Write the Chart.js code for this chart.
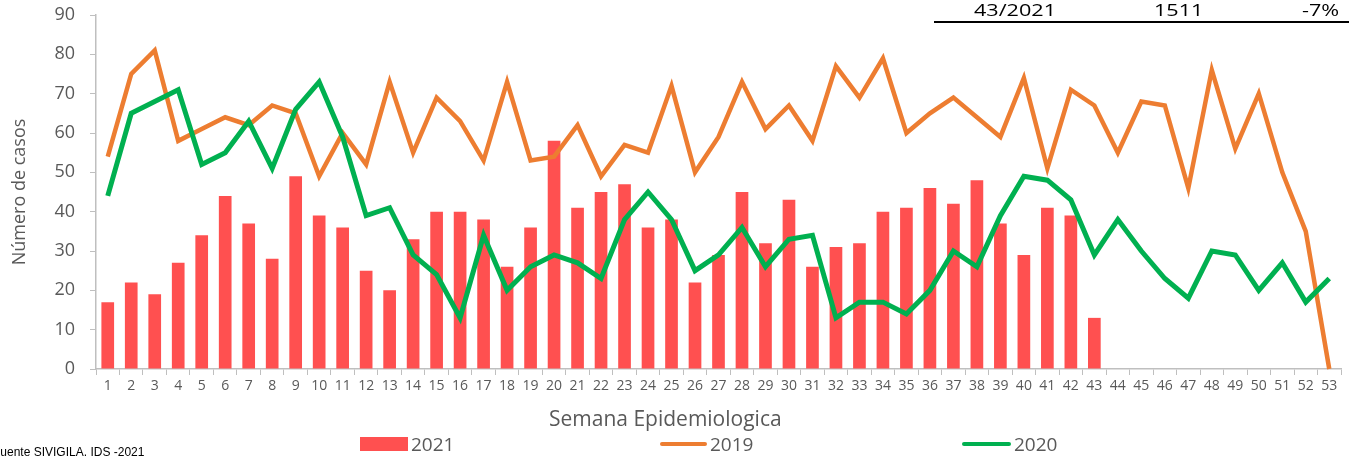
<!DOCTYPE html>
<html>
<head>
<meta charset="utf-8">
<script src="https://cdn.jsdelivr.net/npm/chart.js@4"></script>
<style>
  html, body { margin: 0; padding: 0; background: #fff; }
  #wrap { position: relative; width: 1349px; height: 456px; overflow: hidden; }
  canvas { position: absolute; left: 0; top: 0; }
  .t { position: absolute; white-space: nowrap; }
  .leg { font-family: "Open Sans", sans-serif; font-size: 19px; color: #595959; line-height: 20px; top: 434px; }
  .top { font-family: "Open Sans", sans-serif; font-size: 16px; color: #000; line-height: 18px; top: 1px; transform-origin: left top; transform: scaleX(1.35); }
</style>
</head>
<body>
<div id="wrap">
  <canvas id="c" width="1349" height="456"></canvas>
  <div class="t top" style="left:974px;">43/2021</div>
  <div class="t top" style="left:1154px;">1511</div>
  <div class="t top" style="left:1302px;">-7%</div>
  <div style="position:absolute;left:934px;top:21px;width:415px;height:2px;background:#000;"></div>

  <div class="t" style="left:549px;top:405px;font-family:'Open Sans',sans-serif;font-size:21px;line-height:26px;color:#595959;">Semana Epidemiologica</div>

  <div style="position:absolute;left:360px;top:437px;width:48px;height:14px;background:#FF5050;"></div>
  <div class="t leg" style="left:411px;">2021</div>
  <div style="position:absolute;left:660px;top:442px;width:47px;height:4px;border-radius:2px;background:#ED7D31;"></div>
  <div class="t leg" style="left:710px;">2019</div>
  <div style="position:absolute;left:962px;top:442px;width:49px;height:4px;border-radius:2px;background:#00B050;"></div>
  <div class="t leg" style="left:1014px;">2020</div>

  <div class="t" style="left:-7px;top:445px;font-family:'Liberation Sans',Arial,sans-serif;font-size:12px;color:#000;">Fuente SIVIGILA, IDS -2021</div>
</div>
<script>
const weeks = Array.from({length: 53}, (_, i) => String(i + 1));
const cases2021 = [17,22,19,27,34,44,37,28,49,39,36,25,20,33,40,40,38,26,36,58,41,45,47,36,38,22,29,45,32,43,26,31,32,40,41,46,42,48,37,29,41,39,13];
const cases2019 = [54,75,81,58,61,64,62,67,65,49,60,52,73,55,69,63,53,73,53,54,62,49,57,55,72,50,59,73,61,67,58,77,69,79,60,65,69,64,59,74,51,71,67,55,68,67,46,76,56,70,50,35,0];
const cases2020 = [44,65,68,71,52,55,63,51,66,73,59,39,41,29,24,13,34,20,26,29,27,23,38,45,38,25,29,36,26,33,34,13,17,17,14,20,30,26,39,49,48,43,29,38,30,23,18,30,29,20,27,17,23];
const yTicks = [0,10,20,30,40,50,60,70,80,90];

const axisColor = '#BFBFBF';
const textColor = '#595959';

new Chart(document.getElementById('c'), {
  type: 'bar',
  data: {
    labels: weeks,
    datasets: [
      { label: '2021', type: 'bar', data: cases2021, backgroundColor: '#FF5050', barPercentage: 0.54, categoryPercentage: 1, order: 3 },
      { label: '2019', type: 'line', data: cases2019, borderColor: '#ED7D31', backgroundColor: '#ED7D31', borderWidth: 4.5, pointRadius: 0, tension: 0, clip: false, order: 2 },
      { label: '2020', type: 'line', data: cases2020, borderColor: '#00B050', backgroundColor: '#00B050', borderWidth: 5, pointRadius: 0, tension: 0, clip: false, order: 1 }
    ]
  },
  options: {
    responsive: false,
    animation: false,
    events: [],
    layout: { padding: { top: 15, right: 8, left: 0, bottom: 0 } },
    plugins: { legend: { display: false }, tooltip: { enabled: false } },
    scales: {
      x: {
        offset: true,
        grid: { display: true, drawOnChartArea: false, offset: true, color: axisColor, tickLength: 6, lineWidth: 1 },
        border: { color: axisColor, width: 1.5 },
        ticks: { color: textColor, font: { family: 'Open Sans', size: 14 }, padding: 3, maxRotation: 0, autoSkip: false },
        afterFit: s => { s.height = 87; s.paddingLeft = 0; s.paddingRight = 0; }
      },
      y: {
        min: 0, max: 90,
        afterBuildTicks: s => { s.ticks = yTicks.map(v => ({ value: v })); },
        grid: { display: true, drawOnChartArea: false, color: axisColor, tickLength: 6 },
        border: { color: axisColor, width: 1.5 },
        ticks: { color: textColor, font: { family: 'Open Sans', size: 18 }, padding: 15 },
        title: { display: true, text: 'Número de casos', color: textColor, font: { family: 'Open Sans', size: 18 }, padding: { top: 9, bottom: 0 } },
        afterFit: s => { s.width = 96; s.paddingTop = 0; s.paddingBottom = 0; }
      }
    }
  }
});
</script>
</body>
</html>
